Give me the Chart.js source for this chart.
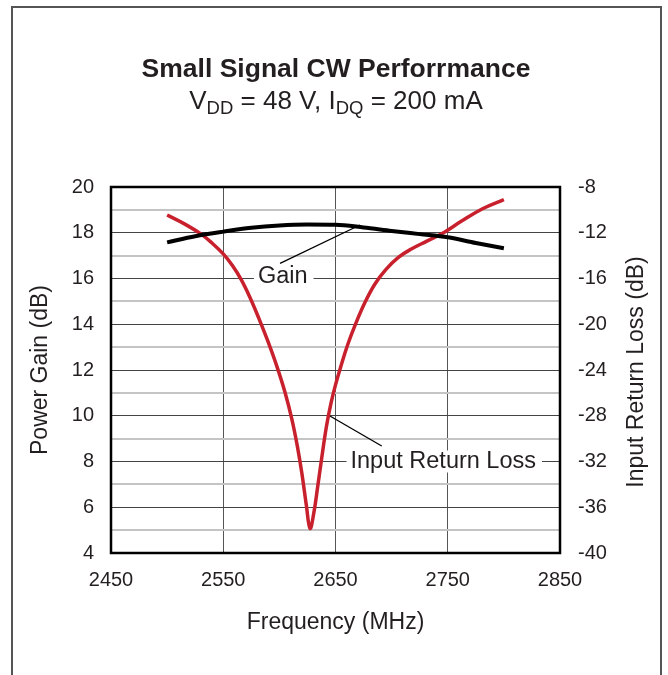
<!DOCTYPE html>
<html>
<head>
<meta charset="utf-8">
<script src="https://cdn.jsdelivr.net/npm/chart.js@4.4.1/dist/chart.umd.min.js"></script>
<style>
  html, body { margin: 0; padding: 0; background: #fff; }
</style>
</head>
<body>
<canvas id="myChart" width="668" height="675"></canvas>
<script>
// Power gain (left axis, dB)
const gainFreq = [2500, 2525, 2550, 2575, 2600, 2625, 2650, 2675, 2700, 2725, 2750, 2775, 2800];
const gainDb = [17.58, 17.85, 18.05, 18.22, 18.32, 18.36, 18.35, 18.23, 18.08, 17.94, 17.8, 17.55, 17.32];

// Input return loss (right axis, dB)
const irlFreq = [2500, 2515, 2530, 2540, 2550, 2558, 2566, 2574, 2582, 2590, 2598, 2605, 2611, 2616, 2620, 2624, 2627.3,
  2630.5, 2634, 2638, 2642, 2646, 2650, 2655, 2661, 2668, 2676, 2685, 2695, 2706, 2718, 2731, 2747, 2762, 2781, 2800];
const irlDb = [-10.45, -11.2, -12.1, -12.9, -13.85, -14.85, -16.1, -17.7, -19.55, -21.55, -23.75, -25.95, -28.25, -30.65, -33.0, -35.8, -37.85,
  -36.6, -34.3, -31.5, -28.9, -26.9, -25.3, -23.6, -21.75, -19.95, -18.15, -16.5, -15.2, -14.15, -13.4, -12.75, -11.95, -11.0, -9.9, -9.1];

// Callout labels: text position on left axis, leader line in the given axis
const gainCallout = { text: 'Gain', x: 2603, y: 16.1, from: [2600.6, 16.66], to: [2671.8, 18.34], axis: 'y' };
const irlCallout = { text: 'Input Return Loss', x: 2746, y: 8, from: [2691.2, -30.65], to: [2643.5, -27.93], axis: 'y2' };

const ctx = document.getElementById('myChart');
const fontFamily = '"Liberation Sans", Arial, Helvetica, sans-serif';
const textColor = '#231f20';

const decorPlugin = {
  id: 'decor',
  beforeDraw(chart) {
    const c = chart.ctx;
    c.save();
    c.fillStyle = '#fff';
    c.fillRect(0, 0, chart.width, chart.height);
    c.strokeStyle = '#555';
    c.lineWidth = 2;
    c.strokeRect(12, 7, 649, 700);

    // title
    c.fillStyle = textColor;
    c.textAlign = 'center';
    c.textBaseline = 'alphabetic';
    c.font = 'bold 26.5px ' + fontFamily;
    c.fillText('Small Signal CW Perforrmance', 336, 77);

    // subtitle with subscripts
    const parts = [
      ['V', false], ['DD', true], [' = 48 V, I', false], ['DQ', true], [' = 200 mA', false]
    ];
    const big = '26px ' + fontFamily, small = '18.5px ' + fontFamily;
    let total = 0;
    parts.forEach(p => { c.font = p[1] ? small : big; total += c.measureText(p[0]).width; });
    let x = 336 - total / 2;
    c.textAlign = 'left';
    parts.forEach(p => {
      c.font = p[1] ? small : big;
      c.fillText(p[0], x, p[1] ? 114 : 109);
      x += c.measureText(p[0]).width;
    });

    // right axis title (reads bottom to top)
    c.translate(637, 372);
    c.rotate(-Math.PI / 2);
    c.textAlign = 'center';
    c.textBaseline = 'middle';
    c.font = '23px ' + fontFamily;
    c.fillText('Input Return Loss (dB)', 0, 0);
    c.restore();
  },
  beforeDatasetsDraw(chart) {
    const c = chart.ctx;
    const xs = chart.scales.x;
    [gainCallout, irlCallout].forEach(cl => {
      const ys = chart.scales[cl.axis];
      c.save();
      c.font = '23.5px ' + fontFamily;
      const w = c.measureText(cl.text).width;
      const tx = xs.getPixelForValue(cl.x);
      const ty = chart.scales.y.getPixelForValue(cl.y);
      c.fillStyle = '#fff';
      c.fillRect(tx - w / 2 - 4, ty - 11, w + 10, 22);
      c.fillStyle = textColor;
      c.textAlign = 'center';
      c.textBaseline = 'middle';
      c.fillText(cl.text, tx, ty);
      c.strokeStyle = '#000';
      c.lineWidth = 1.3;
      c.beginPath();
      c.moveTo(xs.getPixelForValue(cl.from[0]), ys.getPixelForValue(cl.from[1]));
      c.lineTo(xs.getPixelForValue(cl.to[0]), ys.getPixelForValue(cl.to[1]));
      c.stroke();
      c.restore();
    });
  },
  afterDraw(chart) {
    const a = chart.chartArea;
    const c = chart.ctx;
    c.save();
    c.strokeStyle = '#000';
    c.lineWidth = 2.5;
    c.strokeRect(a.left, a.top, a.right - a.left, a.bottom - a.top);
    c.restore();
  }
};

new Chart(ctx, {
  type: 'line',
  data: {
    datasets: [
      {
        label: 'Gain',
        data: gainFreq.map((f, i) => ({ x: f, y: gainDb[i] })),
        yAxisID: 'y',
        borderColor: '#000',
        borderWidth: 4,
        pointRadius: 0,
        cubicInterpolationMode: 'monotone'
      },
      {
        label: 'Input Return Loss',
        data: irlFreq.map((f, i) => ({ x: f, y: irlDb[i] })),
        yAxisID: 'y2',
        borderColor: '#c8202c',
        borderWidth: 3.5,
        pointRadius: 0,
        tension: 0.4
      }
    ]
  },
  options: {
    responsive: false,
    animation: false,
    layout: { padding: { top: 187, left: 0, right: 0, bottom: 0 } },
    plugins: {
      legend: { display: false },
      title: { display: false },
      tooltip: { enabled: false }
    },
    scales: {
      x: {
        type: 'linear',
        min: 2450,
        max: 2850,
        ticks: { stepSize: 100, padding: 15, color: textColor, font: { family: fontFamily, size: 20 }, callback: v => String(v) },
        grid: { color: '#555', lineWidth: 1, drawTicks: false },
        border: { display: false },
        title: { display: true, text: 'Frequency (MHz)', color: textColor, font: { family: fontFamily, size: 23 }, padding: { top: 0, bottom: 39 } },
        afterFit: s => { s.height = 122; }
      },
      y: {
        position: 'left',
        min: 4,
        max: 20,
        ticks: {
          stepSize: 1,
          autoSkip: false,
          padding: 17,
          color: textColor,
          font: { family: fontFamily, size: 20 },
          callback: v => (v % 2 === 0 ? String(v) : '')
        },
        grid: {
          color: c => (c.tick.value % 2 === 0 ? '#444' : '#c4c4c4'),
          lineWidth: c => (c.tick.value % 2 === 0 ? 1 : 2),
          drawTicks: false
        },
        border: { display: false },
        title: { display: true, text: 'Power Gain (dB)', color: textColor, font: { family: fontFamily, size: 23 }, padding: { top: 27, bottom: 0 } },
        afterFit: s => { s.width = 111; }
      },
      y2: {
        position: 'right',
        min: -40,
        max: -8,
        ticks: { stepSize: 4, padding: 18, color: textColor, font: { family: fontFamily, size: 20 } },
        grid: { drawOnChartArea: false, drawTicks: false },
        border: { display: false },
        afterFit: s => { s.width = 108; }
      }
    }
  },
  plugins: [decorPlugin]
});
</script>
</body>
</html>
